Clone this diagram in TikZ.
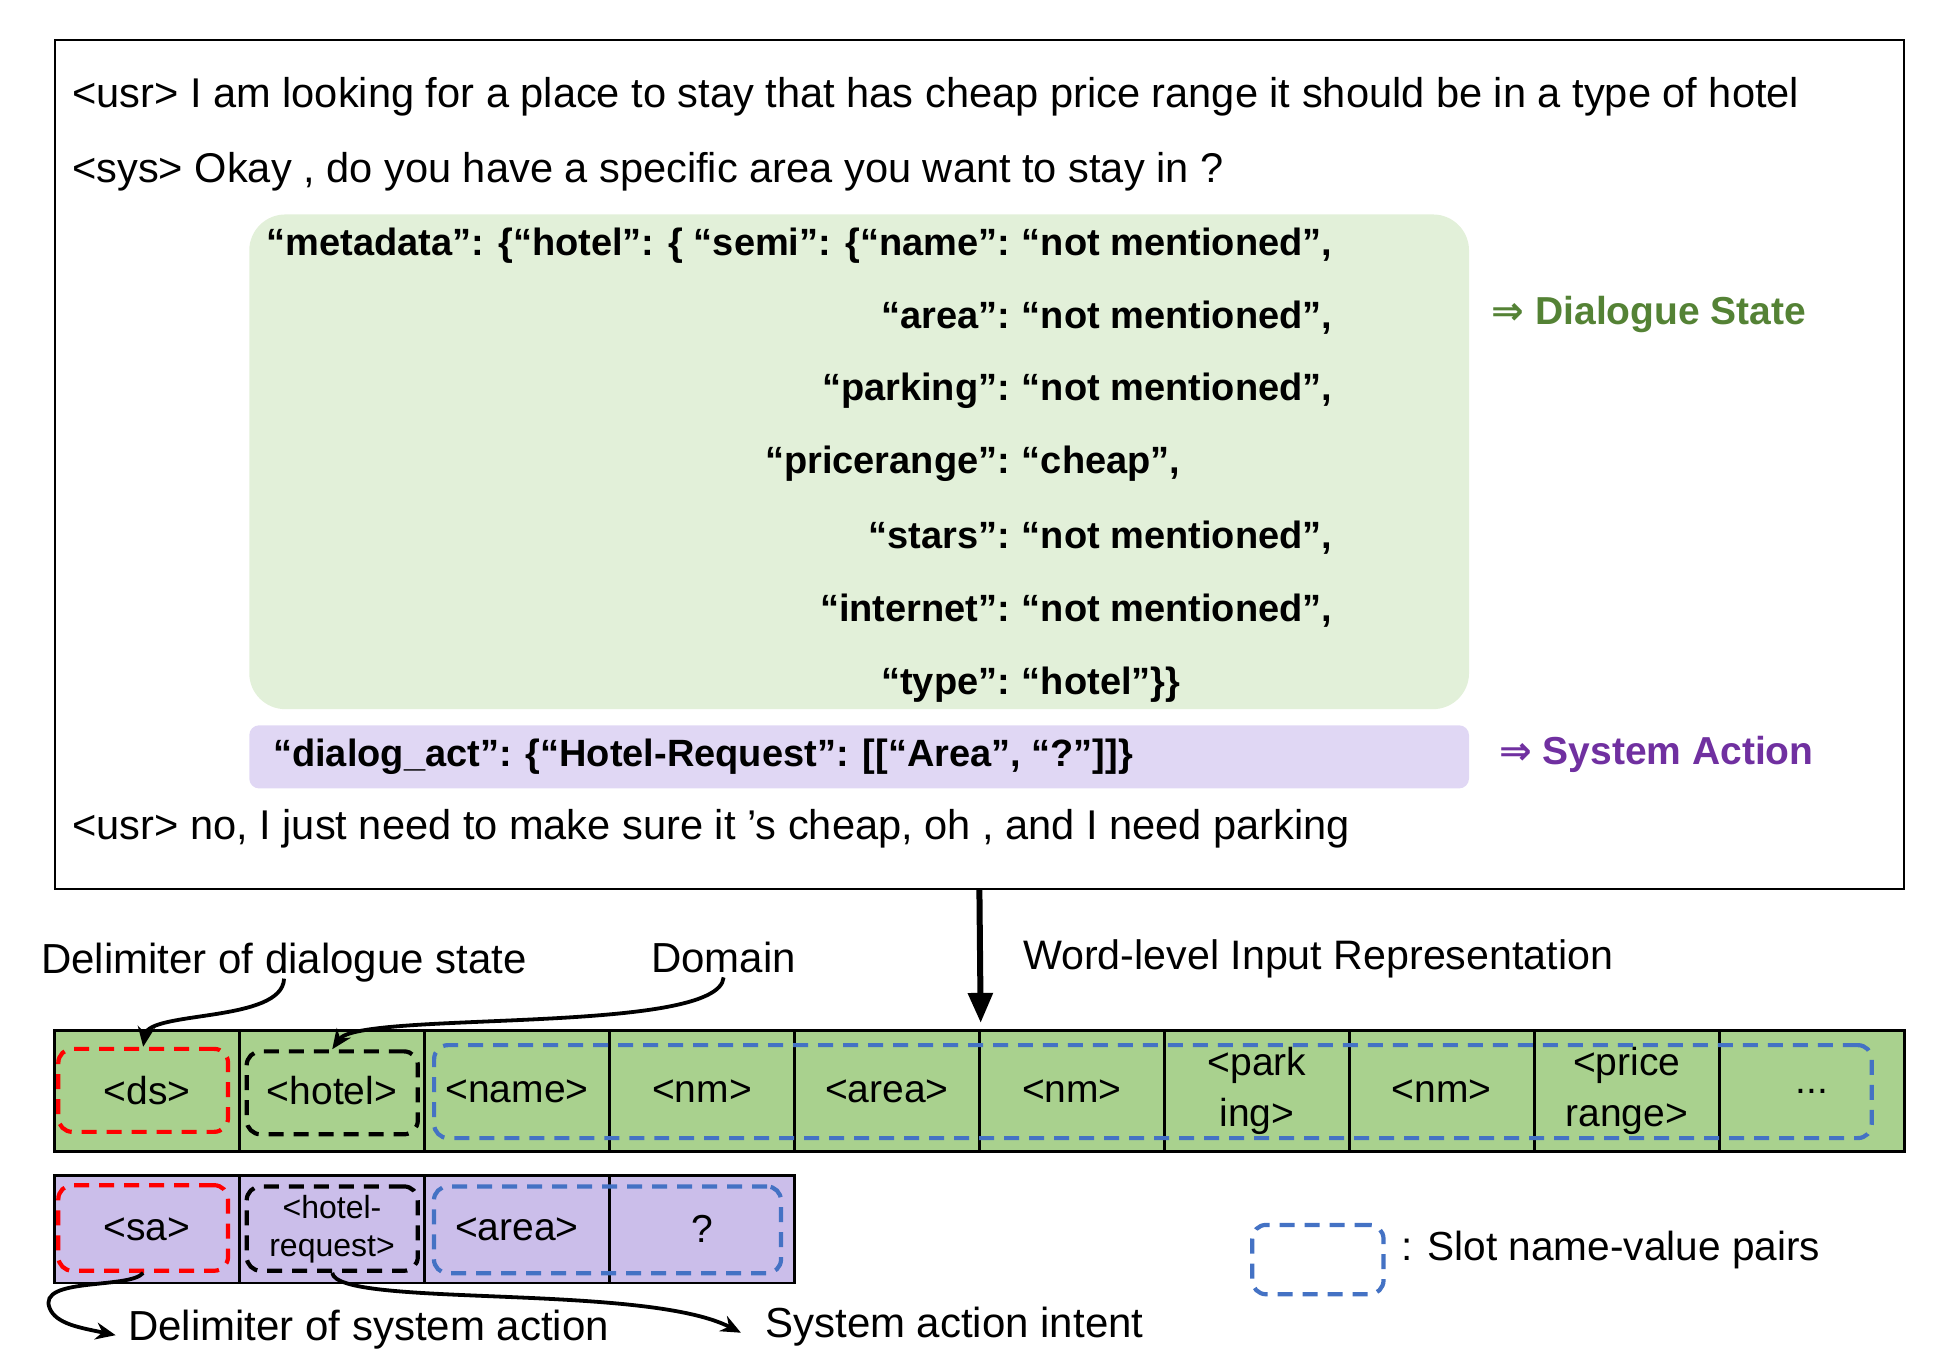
\documentclass[tikz,border=0pt]{standalone}
\usepackage{fontspec}
\setmainfont{Liberation Sans}
\newfontfamily\arrowfont{DejaVu Sans}
\usepackage{xcolor}
\usetikzlibrary{arrows.meta}
\definecolor{statebg}{HTML}{E2F0D9}
\definecolor{actbg}{HTML}{E0D7F4}
\definecolor{dsgreen}{HTML}{A9D18E}
\definecolor{sapurple}{HTML}{CBBEEA}
\definecolor{stategreen}{HTML}{548235}
\definecolor{actpurple}{HTML}{7030A0}
\definecolor{slotblue}{HTML}{4472C4}

\begin{document}
\begin{tikzpicture}[x=0.62pt,y=-0.62pt]
	 \tikzstyle{line}=[inner sep=0pt, anchor=west, text height=0.75em, text depth=0.25em, font=\fontsize{20.8}{24}\selectfont]
	 \tikzstyle{code}=[line, font=\fontsize{19}{24}\selectfont\bfseries]
	 \tikzstyle{key}=[code, anchor=east]
	 \tikzstyle{label}=[line, font=\fontsize{21}{24}\selectfont]
	 \tikzstyle{token}=[draw=black, line width=1.3pt, minimum width=92.5pt, inner sep=0pt, align=center, font=\fontsize{19.5}{25.4}\selectfont]
	 \tikzstyle{ds token}=[token, fill=dsgreen, minimum height=60.8pt]
	 \tikzstyle{sa token}=[token, fill=sapurple, minimum height=53.9pt]
	 \tikzstyle{slot}=[draw, line width=2.1pt, dash pattern=on 7.5pt off 5pt, rounded corners=7pt, inner sep=0pt]
	 \tikzstyle{curvy}=[draw, line width=1.9pt, -{Stealth[length=10pt,width=8.5pt]}]
	 \useasboundingbox (0,0) rectangle (1560,1090.5);
	 % dialogue frame
	 \node[draw, line width=1pt, minimum width=925pt, minimum height=424.7pt, inner sep=0pt] (frame) at (790,374.5) {};
	 \node[fill=statebg, rounded corners=18pt, minimum width=610pt, minimum height=247.4pt, inner sep=0pt] (state) at (693,372.5) {};
	 \node[fill=actbg, rounded corners=5pt, minimum width=610pt, minimum height=31.6pt, inner sep=0pt] (act) at (693,610.5) {};
	 \node[line] (usr1) at (58,83) {<usr> I am looking for a place to stay that has cheap price range it should be in a type of hotel};
	 \node[line] (sys1) at (58,143) {<sys> Okay , do you have a specific area you want to stay in ?};
	 \node[line] (usr2) at (58,673) {<usr> no, I just need to make sure it ’s cheap, oh , and I need parking};
	 \node[key] (k1) at (815,202) {“metadata”: \{“hotel”: \{ “semi”: \{“name”:};
	 \node[key] (k2) at (815,261) {“area”:};
	 \node[key] (k3) at (815,319) {“parking”:};
	 \node[key] (k4) at (815,378) {“pricerange”:};
	 \node[key] (k5) at (815,438) {“stars”:};
	 \node[key] (k6) at (815,497) {“internet”:};
	 \node[key] (k7) at (815,556) {“type”:};
	 \node[code] (v1) at (824,202) {“not mentioned”,};
	 \node[code] (v2) at (824,261) {“not mentioned”,};
	 \node[code] (v3) at (824,319) {“not mentioned”,};
	 \node[code] (v4) at (824,378) {“cheap”,};
	 \node[code] (v5) at (824,438) {“not mentioned”,};
	 \node[code] (v6) at (824,497) {“not mentioned”,};
	 \node[code] (v7) at (824,556) {“hotel”\}\}};
	 \node[code] (da) at (220,614) {“dialog\_act”: \{“Hotel-Request”: [[“Area”, “?”]]\}};
	 \node[code, text=stategreen, font=\fontsize{19.5}{24}\selectfont\bfseries] (dsname) at (1203,258) {{\arrowfont\bfseries ⇒} Dialogue State};
	 \node[code, text=actpurple, font=\fontsize{19.5}{24}\selectfont\bfseries] (saname) at (1209,613) {{\arrowfont\bfseries ⇒} System Action};
	 % word-level input
	 \node[ds token] (t0) at (118.6,880) {<ds>};
	 \node[ds token] (t1) at (267.8,880) {<hotel>};
	 \node[ds token] (t2) at (417,880) {<name>};
	 \node[ds token] (t3) at (566.2,880) {<nm>};
	 \node[ds token] (t4) at (715.4,880) {<area>};
	 \node[ds token] (t5) at (864.6,880) {<nm>};
	 \node[ds token] (t6) at (1013.8,880) {<park\\ing>};
	 \node[ds token] (t7) at (1163,880) {<nm>};
	 \node[ds token] (t8) at (1312.2,880) {<price\\range>};
	 \node[ds token] (t9) at (1461.4,880) {...};
	 \node[sa token] (a0) at (118.6,991.5) {<sa>};
	 \node[sa token, font=\fontsize{16}{19}\selectfont] (a1) at (267.8,991.5) {<hotel-\\request>};
	 \node[sa token] (a2) at (417,991.5) {<area>};
	 \node[sa token] (a3) at (566.2,991.5) {?};
	 \node[slot, red, minimum width=84.9pt, minimum height=41.5pt] (dsbox) at (115.5,879.5) {};
	 \node[slot, black, minimum width=85.6pt, minimum height=41.5pt] (hotelbox) at (268,881.5) {};
	 \node[slot, slotblue, minimum width=719pt, minimum height=46.5pt] (dsslots) at (930,880.5) {};
	 \node[slot, red, minimum width=84.9pt, minimum height=42.8pt] (sabox) at (115.5,990.5) {};
	 \node[slot, black, minimum width=85.6pt, minimum height=42.2pt] (hreqbox) at (268,991) {};
	 \node[slot, slotblue, minimum width=173.6pt, minimum height=43.4pt] (saslots) at (490,992) {};
	 \node[slot, slotblue, minimum width=65.7pt, minimum height=34.7pt] (legend) at (1063,1016) {};
	 % labels
	 \node[label] (delimds) at (33,781) {Delimiter of dialogue state};
	 \node[label] (domain) at (525,780) {Domain};
	 \node[label, font=\fontsize{20.6}{24}\selectfont] (wordlevel) at (825,778) {Word-level Input Representation};
	 \node[label] (delimsa) at (103,1077) {Delimiter of system action};
	 \node[label] (intent) at (617,1075) {System action intent};
	 \node[label, font=\fontsize{20.3}{24}\selectfont] (slotpairs) at (1130,1013) {: Slot name-value pairs};
	 \draw[line width=3pt, -{Triangle[length=15pt,width=12pt]}] (frame.south) -- ([yshift=3pt]t4.north east);
	 \draw[curvy] (delimds.south) .. controls (228,825) and (120,815) .. (dsbox.north);
	 \draw[curvy] (domain.south) .. controls (580,835) and (290,815) .. (hotelbox.north);
	 \draw[curvy] (sabox.south) .. controls (105,1040) and (30,1030) .. (40,1055) .. controls (45,1068) and (65,1071) .. ([xshift=-6pt]delimsa.west);
	 \draw[curvy] (hreqbox.south) .. controls (272,1055) and (520,1035) .. ([xshift=-12pt]intent.west);
\end{tikzpicture}
\end{document}
